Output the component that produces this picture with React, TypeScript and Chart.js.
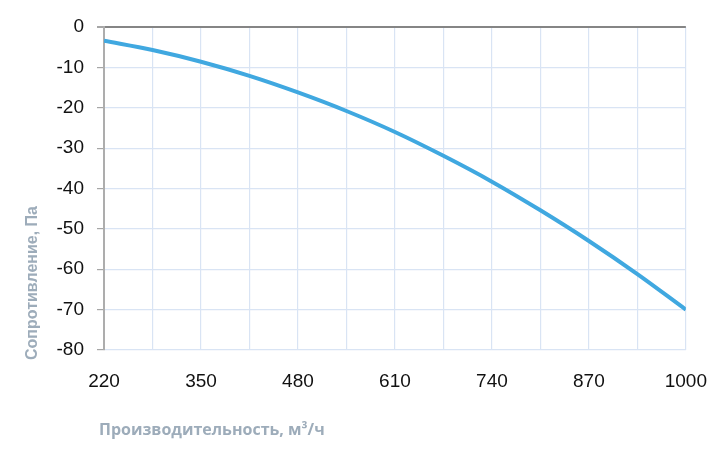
import React, { useRef, useEffect } from 'react';
import { Chart, registerables } from 'chart.js';

Chart.register(...registerables);

// airflow (m3/h) and duct resistance (Pa), every 65 m3/h
const flowRates = [220, 285, 350, 415, 480, 545, 610, 675, 740, 805, 870, 935, 1000];
const resistance = [-3.4, -5.7, -8.6, -12.1, -16.2, -20.8, -26.0, -31.9, -38.3, -45.4, -53.0, -61.2, -70.0];

// every second vertical grid line carries a label
const xLabels = [220, 350, 480, 610, 740, 870, 1000];
const yLabels = [0, -10, -20, -30, -40, -50, -60, -70, -80];

const xTitle = 'Производительность, м³/ч';
const yTitle = 'Сопротивление, Па';

const titleColor = '#9dacba';

const axisTitles = {
    id: 'axisTitles',
    afterDraw(chart: Chart) {
        const { ctx, chartArea } = chart;
        ctx.save();
        ctx.fillStyle = titleColor;
        ctx.textBaseline = 'alphabetic';

        ctx.font = 'bold 16px "Open Sans"';
        ctx.textAlign = 'left';
        ctx.fillText(xTitle, chartArea.left - 5, 435);

        ctx.translate(37, 283);
        ctx.rotate(-Math.PI / 2);
        ctx.font = 'bold 16px "Liberation Sans"';
        ctx.textAlign = 'center';
        ctx.fillText(yTitle, 0, 0);
        ctx.restore();
    },
};

const ResistanceChart = () => {
    const chartRef = useRef<HTMLCanvasElement>(null);
    const chartInstanceRef = useRef<Chart | null>(null);

    useEffect(() => {
        document.body.style.margin = '0';
        if (chartRef.current && !chartInstanceRef.current) {
            const context = chartRef.current.getContext('2d');
            if (context) {
                chartInstanceRef.current = new Chart(context, {
                    type: 'line',
                    data: {
                        datasets: [
                            {
                                data: flowRates.map((q, i) => ({ x: q, y: resistance[i] })),
                                borderColor: '#40a8e0',
                                borderWidth: 4,
                                pointRadius: 0,
                                cubicInterpolationMode: 'monotone',
                                fill: false,
                            },
                        ],
                    },
                    options: {
                        animation: false,
                        responsive: true,
                        maintainAspectRatio: false,
                        layout: {
                            padding: { left: 0, right: 40, top: 27, bottom: 0 },
                        },
                        scales: {
                            x: {
                                type: 'linear',
                                min: 220,
                                max: 1000,
                                afterFit: (scale) => {
                                    scale.height = 106;
                                },
                                grid: {
                                    color: '#d9e4f4',
                                    lineWidth: 1.2,
                                    drawTicks: false,
                                },
                                border: { display: false },
                                ticks: {
                                    stepSize: 65,
                                    padding: 20,
                                    color: '#111111',
                                    font: { family: '"Liberation Sans", Arial', size: 19 },
                                    maxRotation: 0,
                                    autoSkip: false,
                                    callback: (value) =>
                                        xLabels.includes(Number(value)) ? String(value) : '',
                                },
                            },
                            y: {
                                min: -80,
                                max: 0,
                                afterFit: (scale) => {
                                    scale.width = 104;
                                },
                                grid: {
                                    color: (c) => (c.tick && c.tick.value === 0 ? '#858585' : '#d9e4f4'),
                                    lineWidth: (c) => (c.tick && c.tick.value === 0 ? 2 : 1.2),
                                    tickColor: '#a6a6a6',
                                    tickLength: 7,
                                },
                                border: { color: '#adadad', width: 2 },
                                ticks: {
                                    stepSize: 10,
                                    padding: 13,
                                    color: '#111111',
                                    font: { family: '"Liberation Sans", Arial', size: 19 },
                                    callback: (value) =>
                                        yLabels.includes(Number(value)) ? String(value) : '',
                                },
                            },
                        },
                        plugins: {
                            legend: { display: false },
                            tooltip: { enabled: false },
                        },
                    },
                    plugins: [axisTitles],
                });
            }
        }

        return () => {
            if (chartInstanceRef.current) {
                chartInstanceRef.current.destroy();
                chartInstanceRef.current = null;
            }
        };
    }, []);

    return (
        <div style={{ position: 'relative', width: 727, height: 456, background: '#ffffff' }}>
            <canvas ref={chartRef} />
        </div>
    );
};

export default function App() {
    return <ResistanceChart />;
}
